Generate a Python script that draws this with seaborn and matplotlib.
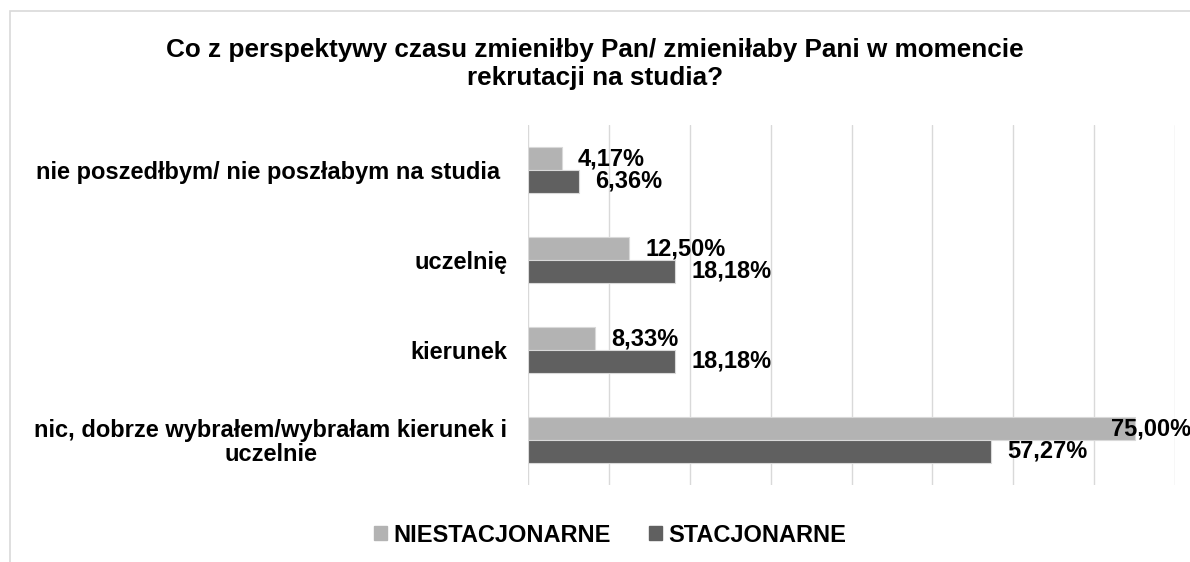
import pandas as pd
import seaborn as sns
import matplotlib.pyplot as plt
from matplotlib.patches import Rectangle

# Data
categories = [
    "nie poszedłbym/ nie poszłabym na studia ",
    "uczelnię",
    "kierunek",
    "nic, dobrze wybrałem/wybrałam kierunek i\nuczelnie",
]
niestacjonarne = [4.17, 12.50, 8.33, 75.00]
stacjonarne = [6.36, 18.18, 18.18, 57.27]
series = ["NIESTACJONARNE", "STACJONARNE"]
colors = ["#b3b3b3", "#606060"]
title = "Co z perspektywy czasu zmieniłby Pan/ zmieniłaby Pani w momencie\nrekrutacji na studia?"

df = pd.DataFrame({
    "kategoria": categories * 2,
    "wartosc": niestacjonarne + stacjonarne,
    "grupa": [series[0]] * 4 + [series[1]] * 4,
})

sns.set_style("white")
plt.rcParams["font.family"] = ["Liberation Sans", "DejaVu Sans"]
plt.rcParams["text.color"] = "black"
plt.rcParams["ytick.labelcolor"] = "black"

fig = plt.figure(figsize=(11.9, 5.62), dpi=100)
ax = fig.add_axes([528 / 1190, 1 - 485 / 562, (1175 - 528) / 1190, (485 - 125) / 562])

sns.barplot(data=df, y="kategoria", x="wartosc", hue="grupa", order=categories,
            hue_order=series, palette=colors, orient="h", width=0.51,
            edgecolor="#d9d9d9", linewidth=0.8, ax=ax, legend=False)

ax.set_xlim(0, 80)
ax.set_xticks(range(0, 81, 10))
ax.set_xticklabels([])
ax.grid(axis="x", color="#d9d9d9", linewidth=1)
ax.set_axisbelow(True)
for s in ax.spines.values():
    s.set_visible(False)
ax.set_xlabel("")
ax.set_ylabel("")
ax.tick_params(axis="y", length=0, pad=15)
ax.tick_params(axis="x", length=0)
for lab in ax.get_yticklabels():
    lab.set_fontsize(17)
    lab.set_fontweight("bold")
    lab.set_color("black")
    lab.set_multialignment("center")
    lab.set_linespacing(1.05)

# data labels (the largest one sits over the bar end, as in the original)
for cont in ax.containers:
    for bar in cont:
        w = bar.get_width()
        y = bar.get_y() + bar.get_height() / 2
        off = 11.5 if w < 70 else -17
        ax.annotate(f"{w:.2f}%".replace(".", ","), (w, y), xytext=(off, 0),
                    textcoords="offset points", ha="left", va="center",
                    fontsize=17, fontweight="bold", color="black",
                    annotation_clip=False)

fig.text(0.5, 1 - 64 / 562, title, ha="center", va="center", fontsize=18.8,
         fontweight="bold", linespacing=1.2, color="black")

# legend
handles = [plt.Rectangle((0, 0), 1, 1, color=c) for c in colors]
fig.legend(handles, series, loc="center", bbox_to_anchor=(610 / 1190, 1 - 535 / 562),
           ncol=2, frameon=False, prop={"weight": "bold", "size": 17},
           handlelength=0.55, handleheight=0.55, handletextpad=0.25, columnspacing=1.65,
           labelcolor="black")

# chart-area border
fig.patches.append(Rectangle((10 / 1190, -0.1), 1.2, 1.1 - 11 / 562, transform=fig.transFigure,
                             fill=False, edgecolor="#d9d9d9", linewidth=1.2))

fig.savefig("out.png", dpi=100)
